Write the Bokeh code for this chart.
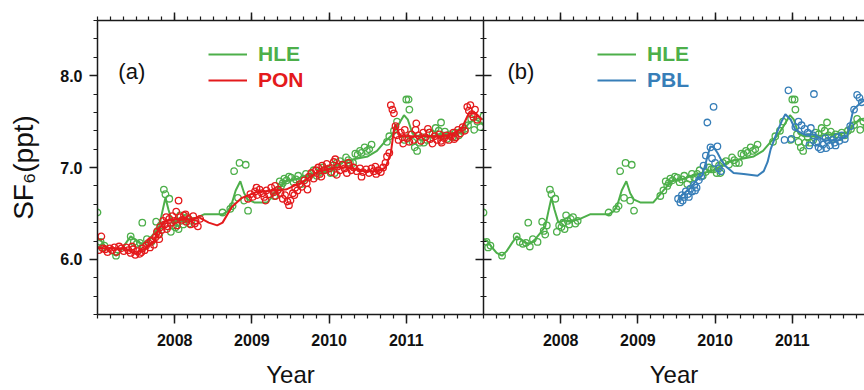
from bokeh.plotting import figure
from bokeh.layouts import row
from bokeh.models import (LinearAxis, FixedTicker, PrintfTickFormatter, CustomJSTickFormatter,
                          Range1d, Legend, LegendItem, Label)
from bokeh.embed import file_html
from bokeh.resources import INLINE

# ---------------- data ----------------
year_ticks = [2008, 2009, 2010, 2011]
ppt_ticks = [6.0, 7.0, 8.0]

# HLE smoothed curve
hle_fit_year = [2007.00, 2007.05, 2007.10, 2007.17, 2007.24, 2007.30, 2007.37, 2007.43, 2007.48,
                2007.54, 2007.60, 2007.67, 2007.74, 2007.80, 2007.84, 2007.88, 2007.92, 2007.97,
                2008.03, 2008.14, 2008.25, 2008.38, 2008.62, 2008.68, 2008.73, 2008.79, 2008.85,
                2008.90, 2008.95, 2009.03, 2009.20, 2009.28, 2009.35, 2009.44, 2009.56, 2009.77,
                2009.95, 2010.20, 2010.50, 2010.62, 2010.72, 2010.80, 2010.88, 2010.97, 2011.02,
                2011.08, 2011.15, 2011.30, 2011.49, 2011.71, 2011.80, 2011.88, 2011.95, 2012.00]
hle_fit_ppt = [6.22, 6.20, 6.14, 6.07, 6.04, 6.09, 6.18, 6.25, 6.22,
               6.18, 6.17, 6.22, 6.29, 6.36, 6.52, 6.67, 6.54, 6.40,
               6.42, 6.42, 6.44, 6.49, 6.49, 6.52, 6.58, 6.75, 6.85,
               6.72, 6.65, 6.62, 6.62, 6.70, 6.77, 6.85, 6.87, 6.93,
               6.96, 7.07, 7.12, 7.18, 7.28, 7.34, 7.44, 7.57, 7.52,
               7.37, 7.34, 7.34, 7.36, 7.38, 7.47, 7.53, 7.50, 7.47]

# HLE observations
hle_year = [2007.00, 2007.04, 2007.06, 2007.09, 2007.24, 2007.43, 2007.47, 2007.51, 2007.55,
            2007.58, 2007.60, 2007.64, 2007.70, 2007.76, 2007.78, 2007.80, 2007.82, 2007.86,
            2007.88, 2007.93, 2007.95, 2007.98, 2008.01, 2008.03, 2008.05, 2008.07, 2008.09,
            2008.11, 2008.13, 2008.16, 2008.19, 2008.22, 2008.62, 2008.72, 2008.75, 2008.77,
            2008.84, 2008.92, 2008.82, 2008.90, 2008.95, 2009.29, 2009.33, 2009.36, 2009.38,
            2009.40, 2009.42, 2009.45, 2009.48, 2009.51, 2009.54, 2009.57, 2009.60, 2009.64,
            2009.67, 2009.70, 2009.73, 2009.77, 2009.80, 2009.84, 2009.88, 2009.92, 2009.95,
            2009.98, 2010.02, 2010.05, 2010.07, 2010.10, 2010.14, 2010.18, 2010.22, 2010.25,
            2010.27, 2010.31, 2010.34, 2010.37, 2010.40, 2010.42, 2010.46, 2010.49, 2010.52,
            2010.55, 2010.75, 2010.78, 2010.84, 2010.88, 2010.98, 2011.00, 2011.03, 2011.04,
            2011.06, 2011.08, 2011.11, 2011.14, 2011.17, 2011.20, 2011.23, 2011.27, 2011.30,
            2011.34, 2011.38, 2011.42, 2011.45, 2011.47, 2011.50, 2011.53, 2011.56, 2011.60,
            2011.64, 2011.68, 2011.72, 2011.76, 2011.80, 2011.84, 2011.88, 2011.92, 2011.96,
            2012.00]
hle_ppt = [6.51, 6.19, 6.13, 6.15, 6.04, 6.25, 6.19, 6.17, 6.18,
           6.40, 6.14, 6.22, 6.19, 6.41, 6.31, 6.27, 6.37, 6.76,
           6.71, 6.66, 6.30, 6.37, 6.35, 6.40, 6.33, 6.48, 6.42,
           6.38, 6.44, 6.46, 6.39, 6.42, 6.51, 6.55, 6.58, 6.96,
           7.05, 7.03, 6.67, 6.64, 6.53, 6.69, 6.75, 6.85, 6.80,
           6.83, 6.88, 6.86, 6.90, 6.89, 6.84, 6.87, 6.91, 6.82,
           6.88, 6.93, 6.89, 6.93, 6.97, 6.91, 6.95, 7.00, 6.98,
           6.98, 6.94, 7.02, 6.94, 7.05, 7.07, 7.03, 7.11, 7.08,
           7.05, 7.05, 7.15, 7.14, 7.18, 7.16, 7.22, 7.18, 7.20,
           7.25, 7.28, 7.34, 7.40, 7.50, 7.30, 7.74, 7.74, 7.63,
           7.36, 7.28, 7.22, 7.18, 7.27, 7.33, 7.27, 7.30, 7.38,
           7.36, 7.43, 7.40, 7.49, 7.35, 7.39, 7.31, 7.36, 7.33,
           7.38, 7.35, 7.40, 7.42, 7.46, 7.53, 7.41, 7.50, 7.44,
           7.56]

# PON smoothed curve
pon_fit_year = [2007.00, 2007.19, 2007.36, 2007.49, 2007.62, 2007.73, 2007.79, 2007.88, 2008.05,
                2008.18, 2008.31, 2008.44, 2008.55, 2008.62, 2008.74, 2008.87, 2009.05, 2009.26,
                2009.44, 2009.65, 2009.87, 2010.08, 2010.21, 2010.34, 2010.47, 2010.64, 2010.73,
                2010.80, 2010.84, 2010.86, 2010.92, 2011.08, 2011.25, 2011.47, 2011.59, 2011.72,
                2011.81, 2011.90, 2011.98]
pon_fit_ppt = [6.12, 6.12, 6.12, 6.06, 6.12, 6.19, 6.33, 6.42, 6.44,
               6.43, 6.46, 6.40, 6.37, 6.40, 6.57, 6.67, 6.73, 6.75,
               6.76, 6.84, 6.96, 7.00, 7.00, 6.98, 6.96, 6.96, 7.00,
               7.16, 7.41, 7.47, 7.34, 7.34, 7.34, 7.34, 7.36, 7.43,
               7.59, 7.59, 7.52]

# PON observations
pon_year = [2007.02, 2007.05, 2007.07, 2007.10, 2007.13, 2007.16, 2007.19, 2007.22, 2007.25,
            2007.28, 2007.31, 2007.34, 2007.37, 2007.40, 2007.43, 2007.46, 2007.49, 2007.52,
            2007.55, 2007.58, 2007.61, 2007.63, 2007.66, 2007.68, 2007.71, 2007.73, 2007.75,
            2007.77, 2007.79, 2007.81, 2007.83, 2007.85, 2007.87, 2007.89, 2007.91, 2007.93,
            2007.95, 2007.97, 2008.00, 2008.03, 2008.05, 2008.07, 2008.10, 2008.12, 2008.15,
            2008.18, 2008.21, 2008.24, 2008.27, 2008.30, 2008.33,
            2007.45, 2007.57, 2007.69, 2007.80, 2007.90, 2008.02, 2008.14, 2008.26,
            2008.95, 2008.98, 2009.01, 2009.04, 2009.07, 2009.10, 2009.13, 2009.16, 2009.19,
            2009.22, 2009.25, 2009.28, 2009.31, 2009.34, 2009.37, 2009.40, 2009.43, 2009.46,
            2009.48, 2009.50, 2009.53, 2009.56, 2009.59, 2009.62, 2009.65, 2009.68, 2009.71,
            2009.74, 2009.77, 2009.80, 2009.83, 2009.86, 2009.88, 2009.91, 2009.94, 2009.97,
            2009.06, 2009.18, 2009.30, 2009.55, 2009.72, 2009.90,
            2010.00, 2010.03, 2010.06, 2010.08, 2010.11, 2010.14, 2010.17, 2010.20, 2010.23,
            2010.26, 2010.29, 2010.32, 2010.36, 2010.40, 2010.44, 2010.48, 2010.52, 2010.55,
            2010.58, 2010.61, 2010.64, 2010.67, 2010.70, 2010.73, 2010.75, 2010.78, 2010.80,
            2010.10, 2010.25, 2010.42, 2010.60,
            2010.82, 2010.84, 2010.86, 2010.88, 2010.90, 2010.93, 2010.95, 2010.98, 2011.01,
            2011.04, 2011.07, 2011.10, 2011.13, 2011.16, 2011.19, 2011.22, 2011.25, 2011.28,
            2011.31, 2011.34, 2011.37, 2011.40, 2011.43, 2011.46, 2011.49, 2011.52, 2011.55,
            2011.58, 2011.61, 2011.64, 2011.67, 2011.70, 2011.73, 2011.76, 2011.79, 2011.81,
            2011.83, 2011.85, 2011.87, 2011.89, 2011.92,
            2010.96, 2011.12, 2011.30, 2011.45, 2011.62]
pon_ppt = [6.10, 6.25, 6.12, 6.11, 6.08, 6.12, 6.10, 6.13, 6.08,
           6.14, 6.12, 6.09, 6.13, 6.10, 6.07, 6.11, 6.05, 6.09,
           6.06, 6.12, 6.10, 6.15, 6.18, 6.13, 6.21, 6.16, 6.24,
           6.30, 6.27, 6.35, 6.32, 6.42, 6.38, 6.46, 6.36, 6.44,
           6.40, 6.47, 6.42, 6.37, 6.64, 6.46, 6.43, 6.48, 6.41,
           6.44, 6.38, 6.47, 6.42, 6.36, 6.44,
           6.14, 6.08, 6.20, 6.22, 6.33, 6.52, 6.49, 6.39,
           6.66, 6.71, 6.68, 6.74, 6.70, 6.76, 6.72, 6.68, 6.75,
           6.71, 6.78, 6.73, 6.69, 6.76, 6.72, 6.66, 6.70, 6.63,
           6.59, 6.64, 6.72, 6.78, 6.75, 6.82, 6.79, 6.86, 6.83,
           6.90, 6.94, 6.88, 6.97, 7.00, 6.93, 7.02, 6.97, 7.04,
           6.78, 6.64, 6.80, 6.70, 6.76, 6.90,
           6.99, 6.95, 7.06, 7.09, 7.01, 6.97, 7.03, 6.99, 6.94,
           7.02, 6.97, 7.00, 6.96, 6.99, 6.95, 6.98, 6.94, 6.99,
           6.96, 6.93, 6.97, 6.95, 7.00, 7.05, 7.12, 7.16, 7.68,
           6.92, 7.05, 6.90, 7.01,
           7.63, 7.59, 7.45, 7.35, 7.30, 7.38, 7.33, 7.41, 7.32,
           7.28, 7.36, 7.30, 7.48, 7.35, 7.29, 7.38, 7.33, 7.42,
           7.31, 7.26, 7.34, 7.30, 7.36, 7.27, 7.32, 7.35, 7.30,
           7.34, 7.38, 7.33, 7.41, 7.37, 7.44, 7.40, 7.66, 7.62,
           7.68, 7.58, 7.55, 7.63, 7.52,
           7.26, 7.41, 7.38, 7.29, 7.31]

# PBL smoothed curve
pbl_fit_year = [2009.52, 2009.60, 2009.68, 2009.76, 2009.83, 2009.87, 2009.90, 2009.94, 2009.98,
                2010.03, 2010.08, 2010.13, 2010.24, 2010.37, 2010.55, 2010.63, 2010.68, 2010.72,
                2010.80, 2010.86, 2010.91, 2010.98, 2011.04, 2011.15, 2011.28, 2011.41, 2011.58,
                2011.71, 2011.75, 2011.79, 2011.88, 2011.93]
pbl_fit_ppt = [6.66, 6.72, 6.78, 6.86, 6.91, 7.02, 7.12, 7.23, 7.22,
               7.16, 7.08, 7.02, 6.94, 6.93, 6.91, 6.96, 7.06, 7.20,
               7.38, 7.50, 7.58, 7.52, 7.41, 7.36, 7.36, 7.30, 7.29,
               7.34, 7.48, 7.63, 7.70, 7.73]

# PBL observations
pbl_year = [2009.52, 2009.55, 2009.57, 2009.60, 2009.62, 2009.65, 2009.68, 2009.70, 2009.73,
            2009.76, 2009.79, 2009.82, 2009.85, 2009.88, 2009.90, 2009.94, 2009.96, 2009.98,
            2010.00, 2010.03, 2010.05, 2010.08, 2010.90, 2010.95, 2010.99, 2011.04, 2011.08,
            2011.12, 2011.16, 2011.20, 2011.24, 2011.27, 2011.28, 2011.31, 2011.34, 2011.37,
            2011.40, 2011.43, 2011.46, 2011.49, 2011.52, 2011.55, 2011.58, 2011.61, 2011.64,
            2011.68, 2011.75, 2011.80, 2011.84, 2011.87, 2011.90,
            2009.58, 2009.66, 2009.74, 2011.22, 2011.33, 2011.44, 2011.56]
pbl_ppt = [6.66, 6.62, 6.70, 6.68, 6.74, 6.71, 6.77, 6.74, 6.81,
           6.78, 6.86, 6.90, 7.02, 7.13, 7.49, 7.22, 7.10, 7.66,
           7.05, 7.23, 6.99, 6.96, 7.30, 7.84, 7.31, 7.44, 7.50,
           7.46, 7.42, 7.38, 7.43, 7.35, 7.80, 7.27, 7.22, 7.20,
           7.25, 7.32, 7.29, 7.24, 7.30, 7.27, 7.33, 7.29, 7.35,
           7.31, 7.45, 7.63, 7.79, 7.76, 7.71,
           6.64, 6.68, 6.75, 7.24, 7.28, 7.21, 7.24]

# ---------------- styling ----------------
GREEN = "#4DAF4A"
RED = "#E41A1C"
BLUE = "#377EB8"
AXIS_COLOR = "#1a1a1a"
FONT = "Liberation Sans"

x_minor = [2007 + i / 6 for i in range(0, 31)]
y_minor = [round(5.4 + 0.2 * i, 2) for i in range(17)]


def style_axis(ax, major_in, major_out, minor_in, minor_out):
    ax.axis_line_color = AXIS_COLOR
    ax.axis_line_width = 1.5
    ax.major_tick_line_color = AXIS_COLOR
    ax.major_tick_line_width = 1.5
    ax.minor_tick_line_color = AXIS_COLOR
    ax.minor_tick_line_width = 1.2
    ax.major_tick_in = major_in
    ax.major_tick_out = major_out
    ax.minor_tick_in = minor_in
    ax.minor_tick_out = minor_out
    ax.major_label_text_font = FONT
    ax.major_label_text_font_style = "bold"
    ax.major_label_text_font_size = "16px"
    ax.major_label_text_color = "#111111"
    ax.axis_label_text_font = FONT
    ax.axis_label_text_font_style = "normal"
    ax.axis_label_text_color = "#111111"


def blank(ax):
    ax.formatter = CustomJSTickFormatter(code="return ''")
    ax.major_label_standoff = 0
    ax.axis_label = None


def panel(width, left_border, x_end, show_y_labels):
    p = figure(width=width, height=390,
               x_range=Range1d(2007, x_end), y_range=Range1d(5.4, 8.6),
               output_backend="svg", toolbar_location=None,
               x_axis_location="below", y_axis_location="left",
               min_border_left=left_border, min_border_right=0,
               min_border_top=20, min_border_bottom=74,
               background_fill_color="white", border_fill_color="white",
               outline_line_color=None)
    p.grid.grid_line_color = None

    xt = FixedTicker(ticks=year_ticks, minor_ticks=x_minor)
    yt = FixedTicker(ticks=ppt_ticks, minor_ticks=y_minor)

    bx = p.xaxis[0]
    bx.ticker = xt
    bx.formatter = PrintfTickFormatter(format="%d")
    style_axis(bx, 0, 9, 0, 4)
    bx.major_label_standoff = 10
    bx.axis_label = "Year"
    bx.axis_label_text_font_size = "24px"
    bx.axis_label_standoff = 12

    top = LinearAxis(ticker=xt)
    style_axis(top, 0, 8, 0, 4)
    blank(top)
    p.add_layout(top, "above")

    ly = p.yaxis[0]
    ly.ticker = yt
    if show_y_labels:
        ly.formatter = PrintfTickFormatter(format="%.1f")
        style_axis(ly, 0, 8, 0, 4)
        ly.major_label_standoff = 7
        ly.axis_label = "SF₆(ppt)"
        ly.axis_label_text_font_size = "28px"
        ly.axis_label_standoff = 18
    else:
        style_axis(ly, 8, 0, 3, 0)
        blank(ly)
    return p, yt


def add_legend(p, renderer, text, color, x, y):
    leg = Legend(items=[LegendItem(label=text, renderers=[renderer])],
                 location=(x, y), orientation="vertical",
                 border_line_color=None, background_fill_alpha=0,
                 padding=0, margin=0, spacing=0,
                 glyph_width=39, glyph_height=24, label_height=24,
                 label_standoff=11,
                 label_text_font=FONT, label_text_font_style="bold",
                 label_text_font_size="21px", label_text_color=color)
    p.add_layout(leg)


MARK = dict(size=6.5, line_width=1.3, fill_color=None)

# ---------------- panel (a): HLE vs PON ----------------
pa, yt_a = panel(483, 97, 2012.0, True)
ra = LinearAxis(ticker=yt_a)
style_axis(ra, 8, 0, 3, 0)
blank(ra)
pa.add_layout(ra, "right")

l_hle_a = pa.line(hle_fit_year, hle_fit_ppt, line_color=GREEN, line_width=2)
pa.scatter(hle_year, hle_ppt, marker="circle", line_color=GREEN, **MARK)
l_pon = pa.line(pon_fit_year, pon_fit_ppt, line_color=RED, line_width=2)
pa.scatter(pon_year, pon_ppt, marker="circle", line_color=RED, **MARK)
add_legend(pa, l_hle_a, "HLE", GREEN, 111, 248)
add_legend(pa, l_pon, "PON", RED, 111, 222)
pa.add_layout(Label(x=2007.27, y=8.04, text="(a)", text_baseline="middle",
                    text_font=FONT, text_font_size="22px", text_color="#111111"))

# ---------------- panel (b): HLE vs PBL ----------------
pb, _ = panel(381, 0, 2011.935, False)
l_hle_b = pb.line(hle_fit_year, hle_fit_ppt, line_color=GREEN, line_width=2)
pb.scatter(hle_year, hle_ppt, marker="circle", line_color=GREEN, **MARK)
l_pbl = pb.line(pbl_fit_year, pbl_fit_ppt, line_color=BLUE, line_width=2)
pb.scatter(pbl_year, pbl_ppt, marker="circle", line_color=BLUE, **MARK)
add_legend(pb, l_hle_b, "HLE", GREEN, 114, 248)
add_legend(pb, l_pbl, "PBL", BLUE, 114, 222)
pb.add_layout(Label(x=2007.31, y=8.04, text="(b)", text_baseline="middle",
                    text_font=FONT, text_font_size="22px", text_color="#111111"))

layout = row(pa, pb, spacing=0)
open("out.html", "w").write(file_html(layout, INLINE))
